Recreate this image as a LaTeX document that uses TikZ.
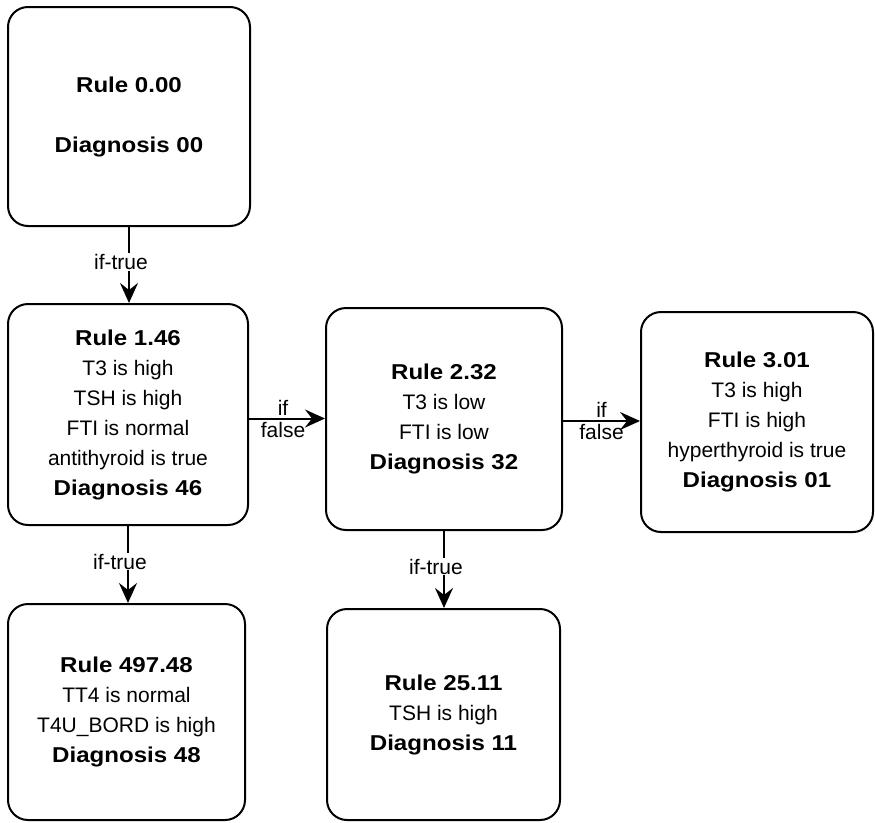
\documentclass[tikz,border=0pt]{standalone}
\usepackage{fontspec}
\setmainfont{Liberation Sans}
\newfontfamily\bwide{Liberation Sans}[FakeStretch=1.12]
\usetikzlibrary{arrows.meta}
\newcommand{\rl}[1]{{\bwide\bfseries\fontsize{21.5}{30}\selectfont #1}}
\tikzset{
  rbox/.style={draw, line width=2pt, rounded corners=20pt, align=center, inner sep=0pt,
               font=\fontsize{21}{30}\selectfont},
  arr/.style={line width=2pt, -{Stealth[length=20pt,width=18pt,inset=7pt]}},
  vlbl/.style={font=\fontsize{21}{24}\selectfont, fill=white, inner sep=1pt},
  hlbl/.style={font=\fontsize{21}{24}\selectfont, inner sep=2.5pt}
}
\begin{document}
\begin{tikzpicture}[x=1pt,y=-1pt]
\useasboundingbox (0,0) rectangle (875,822);

\node[rbox, minimum width=242pt, minimum height=219pt] (b0) at (129,116.5)
  {\rl{Rule 0.00}\\[30pt]\rl{Diagnosis 00}};
\node[rbox, minimum width=240pt, minimum height=221pt] (b1) at (128,414.5)
  {\rl{Rule 1.46}\\T3 is high\\TSH is high\\FTI is normal\\antithyroid is true\\\rl{Diagnosis 46}};
\node[rbox, minimum width=236pt, minimum height=222pt] (b2) at (444,419)
  {\rl{Rule 2.32}\\T3 is low\\FTI is low\\\rl{Diagnosis 32}};
\node[rbox, minimum width=232pt, minimum height=220pt] (b3) at (757,422)
  {\rl{Rule 3.01}\\T3 is high\\FTI is high\\hyperthyroid is true\\\rl{Diagnosis 01}};
\node[rbox, minimum width=237pt, minimum height=216pt] (b4) at (126.5,712)
  {\rl{Rule 497.48}\\TT4 is normal\\T4U\_BORD is high\\\rl{Diagnosis 48}};
\node[rbox, minimum width=233pt, minimum height=211pt] (b5) at (443.5,714.5)
  {\rl{Rule 25.11}\\TSH is high\\\rl{Diagnosis 11}};

\draw[arr] (b0.south) -- node[vlbl, xshift=-8pt, yshift=3pt]{if-true} (b0.south |- b1.north);
\draw[arr] (b1.south) -- node[vlbl, xshift=-8pt, yshift=3pt]{if-true} (b1.south |- b4.north);
\draw[arr] (b2.south) -- node[vlbl, xshift=-8pt, yshift=3pt]{if-true} (b2.south |- b5.north);

\draw[arr] ([yshift=-4pt]b1.east) -- node[hlbl, above, xshift=-4pt]{if} node[hlbl, below, xshift=-4pt]{false} ([yshift=-4pt]b1.east -| b2.west);
\draw[arr] ([yshift=-2pt]b2.east) -- node[hlbl, above]{if} node[hlbl, below]{false} ([yshift=-2pt]b2.east -| b3.west);
\end{tikzpicture}
\end{document}
